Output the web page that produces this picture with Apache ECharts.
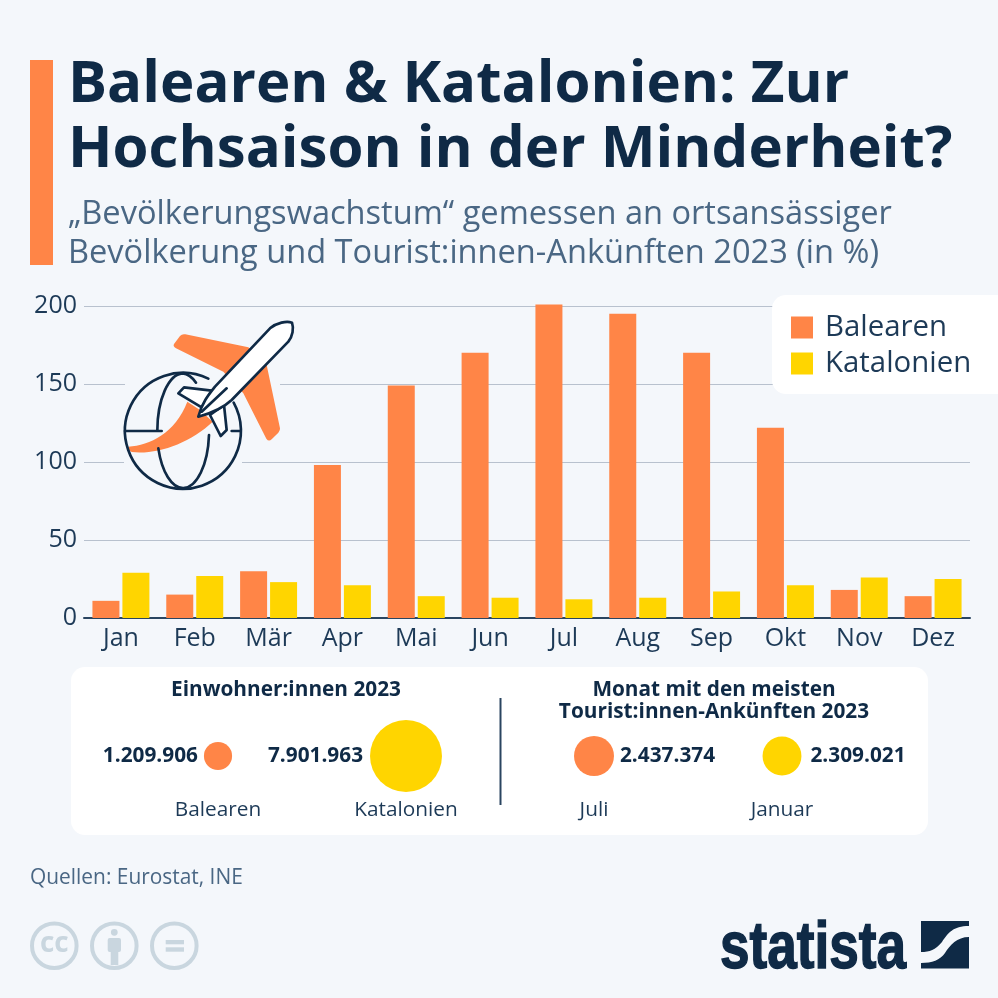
<!DOCTYPE html>
<html>
<head>
<meta charset="utf-8">
<script src="https://cdn.jsdelivr.net/npm/echarts@6/dist/echarts.min.js"></script>
<style>
html, body { margin: 0; padding: 0; background: #f4f7fb; }
#chart { width: 998px; height: 998px; }
</style>
</head>
<body>
<div id="chart"></div>
<script>
const months = ["Jan", "Feb", "Mär", "Apr", "Mai", "Jun", "Jul", "Aug", "Sep", "Okt", "Nov", "Dez"]
const balearen = [11, 15, 30, 98, 149, 170, 201, 195, 170, 122, 18, 14]
const katalonien = [29, 27, 23, 21, 14, 13, 12, 13, 17, 21, 26, 25]
const yTicks = [0, 50, 100, 150, 200]

const bubbleNames = ["Balearen", "Katalonien", "Juli", "Januar"]
const bubbleValues = [1209906, 7901963, 2437374, 2309021]

const ORANGE = "#ff8547"
const YELLOW = "#ffd500"
const NAVY = "#0f2a46"
const TEXT = "#1d3a57"
const SLATE = "#4a6784"
const BG = "#f4f7fb"
const CC = "#c9d6df"
const FONT = "'Open Sans', sans-serif"

const bubbleColors = [ORANGE, YELLOW, ORANGE, YELLOW]
const bubbleLabelSide = ["left", "left", "right", "right"]
const bubbleLabelGap = [6, 7, 6, 9]

const dots = n => String(n).replace(/\B(?=(\d{3})+$)/g, ".")

function text(str, x, y, font, fill, align = "left", z = 10) {
    return {
        type: "text", z,
        style: { text: str, x, y, font, fill, align, verticalAlign: "middle" }
    }
}

// graphic kennt kein "path", also jede form registrieren
let shapeCount = 0
function path(d, fill, stroke, lineWidth = 8) {
    const name = "shape" + shapeCount++
    echarts.graphic.registerShape(name, echarts.graphic.extendPath(d, {}))
    return {
        type: name, z: 12,
        style: { fill: fill || "none", stroke: stroke || "none", lineWidth, lineCap: "round", lineJoin: "round" }
    }
}

// flugzeug + globus, koordinaten im 3x-raster der vorlage
const planeIcon = {
    type: "group", x: 100, y: 300, scaleX: 1 / 3, scaleY: 1 / 3, z: 12,
    children: [
        path("M222 132 L240 108 Q246 101 256 103 L445 142 L500 195 L540 385 Q541 392 535 398 L515 418 Q506 426 499 416 L430 280 L370 215 L228 145 Q218 139 222 132 Z", ORANGE),
        path("M85 440 C150 435 225 400 262 305 L300 330 L338 365 C270 430 170 465 95 456 Q85 450 85 440 Z", ORANGE),
        path("M325 236 A174 174 0 1 0 401 308", null, NAVY),
        path("M248 220 A78 172 0 0 0 172 392 M175 445 A78 172 0 0 0 250 564 A78 172 0 0 0 327 405 M248 220 A78 172 0 0 1 288 248", null, NAVY),
        path("M75 393 L185 393 M395 393 L420 393", null, NAVY),
        path("M235 280 L252 262 L335 272 L305 322 Z", "#ffffff", NAVY),
        path("M330 345 L372 315 L380 390 L362 408 Z", "#ffffff", NAVY),
        path("M295 350 C305 310 325 285 345 260 L510 85 C530 68 560 62 576 68 C582 85 578 108 565 125 L395 300 C365 328 325 342 295 350 Z", "#ffffff", NAVY),
        path("M305 335 L380 265", null, NAVY)
    ]
}

const swoosh = path("M969 926 C953 926 948 933 942 942 C935 950 930 952 921 952 L921 963 C932 963 940 960 945 953 C950 945 957 937 969 937 Z", BG)

const graphics = [
    // akzent + kopf
    { type: "rect", z: 10, shape: { x: 30, y: 60, width: 23, height: 205 }, style: { fill: ORANGE } },
    text("Balearen & Katalonien: Zur", 68, 85, `700 58.2px ${FONT}`, NAVY),
    text("Hochsaison in der Minderheit?", 68, 150, `700 58.2px ${FONT}`, NAVY),
    text("„Bevölkerungswachstum“ gemessen an ortsansässiger", 68, 215, `400 32.6px ${FONT}`, SLATE),
    text("Bevölkerung und Tourist:innen-Ankünften 2023 (in %)", 68, 254, `400 32.6px ${FONT}`, SLATE),

    // legende-hintergrund
    { type: "rect", z: 3, shape: { x: 772, y: 295, width: 240, height: 99, r: 14 }, style: { fill: "#ffffff" } },

    // luecken in den gitterlinien rund ums icon
    { type: "rect", z: 3, shape: { x: 125, y: 380, width: 155, height: 8 }, style: { fill: BG } },
    { type: "rect", z: 3, shape: { x: 124, y: 458, width: 118, height: 8 }, style: { fill: BG } },
    planeIcon,

    // info-panel
    { type: "rect", z: 1, shape: { x: 71, y: 667, width: 857, height: 168, r: 14 }, style: { fill: "#ffffff" } },
    { type: "rect", z: 3, shape: { x: 499.5, y: 698, width: 2, height: 107 }, style: { fill: "#2a4560" } },
    text("Einwohner:innen 2023", 286, 690, `700 20.8px ${FONT}`, NAVY, "center"),
    text("Monat mit den meisten", 714, 690, `700 20.8px ${FONT}`, NAVY, "center"),
    text("Tourist:innen-Ankünften 2023", 714, 712, `700 20.8px ${FONT}`, NAVY, "center"),

    // fuss
    text("Quellen: Eurostat, INE", 30, 878, `400 20.9px ${FONT}`, SLATE),
    { type: "circle", z: 10, shape: { cx: 54.3, cy: 945.7, r: 22.3 }, style: { fill: "none", stroke: CC, lineWidth: 4 } },
    text("cc", 54.3, 944, `700 28px ${FONT}`, CC, "center"),
    { type: "circle", z: 10, shape: { cx: 114.3, cy: 945.7, r: 22.3 }, style: { fill: "none", stroke: CC, lineWidth: 4 } },
    { type: "circle", z: 10, shape: { cx: 114.3, cy: 932.3, r: 3.4 }, style: { fill: CC } },
    { type: "rect", z: 10, shape: { x: 107.7, y: 938, width: 13.3, height: 14, r: 2 }, style: { fill: CC } },
    { type: "rect", z: 10, shape: { x: 110.7, y: 950, width: 7.6, height: 15 }, style: { fill: CC } },
    { type: "circle", z: 10, shape: { cx: 174.3, cy: 945.7, r: 22.3 }, style: { fill: "none", stroke: CC, lineWidth: 4 } },
    { type: "rect", z: 10, shape: { x: 165.7, y: 940, width: 18.3, height: 4.3 }, style: { fill: CC } },
    { type: "rect", z: 10, shape: { x: 165.7, y: 947.3, width: 18.3, height: 4.4 }, style: { fill: CC } },

    // statista-logo
    {
        type: "text", z: 10, x: 720, y: 949.5, scaleX: 0.805,
        style: { text: "statista", x: 0, y: 0, font: "700 66px 'Liberation Sans', sans-serif", fill: NAVY, stroke: NAVY, lineWidth: 1.5, verticalAlign: "middle" }
    },
    { type: "rect", z: 10, shape: { x: 921, y: 921, width: 48, height: 47.5 }, style: { fill: NAVY } },
    swoosh
]

const option = {
    animation: false,
    backgroundColor: BG,
    textStyle: { fontFamily: FONT },
    legend: {
        orient: "vertical", left: 786, top: 308, z: 5,
        data: ["Balearen", "Katalonien"],
        icon: "rect", itemWidth: 22, itemHeight: 22, itemGap: 7,
        selectedMode: false,
        textStyle: { fontSize: 29.4, color: TEXT, fontFamily: FONT, padding: [0, 0, 0, 7] }
    },
    grid: [
        { left: 84, top: 306, width: 886, height: 312 },
        // vier gleich breite spalten fuers panel
        { left: 124, top: 717, width: 752, height: 78 }
    ],
    xAxis: [
        {
            type: "category", data: months, gridIndex: 0,
            axisTick: { show: false },
            axisLine: { show: true, lineStyle: { color: "#2a4560", width: 2 } },
            axisLabel: { fontSize: 25, color: TEXT, margin: 8, interval: 0 }
        },
        {
            type: "category", data: bubbleNames, gridIndex: 1, z: 4,
            axisTick: { show: false },
            axisLine: { show: false },
            axisLabel: { fontSize: 20.8, color: TEXT, margin: 5, interval: 0 }
        }
    ],
    yAxis: [
        {
            type: "value", gridIndex: 0, min: yTicks[0], max: yTicks[yTicks.length - 1], interval: 50,
            axisLine: { show: false }, axisTick: { show: false },
            axisLabel: { fontSize: 25, color: TEXT, margin: 7 },
            splitLine: { lineStyle: { color: "#b8c1ce", width: 1 } }
        },
        { type: "value", gridIndex: 1, min: 0, max: 2, show: false }
    ],
    series: [
        {
            name: "Balearen", type: "bar", data: balearen, clip: false,
            barWidth: 27, barGap: "11%", itemStyle: { color: ORANGE }, z: 2
        },
        {
            name: "Katalonien", type: "bar", data: katalonien, clip: false,
            barWidth: 27, barGap: "11%", itemStyle: { color: YELLOW }, z: 2
        },
        {
            name: "Panel", type: "scatter", xAxisIndex: 1, yAxisIndex: 1, z: 5,
            // flaeche proportional zum wert
            symbolSize: v => 2 * 0.0128 * Math.sqrt(v[2]),
            data: bubbleNames.map((name, i) => ({
                value: [name, 1, bubbleValues[i]],
                itemStyle: { color: bubbleColors[i], opacity: 1 },
                label: {
                    show: true, position: bubbleLabelSide[i], distance: bubbleLabelGap[i],
                    formatter: dots(bubbleValues[i]),
                    fontSize: 20.8, fontWeight: 700, color: NAVY
                }
            }))
        }
    ],
    graphic: { elements: graphics }
}

const myChart = echarts.init(document.getElementById("chart"), null, { renderer: "canvas" })
myChart.setOption(option)
</script>
</body>
</html>
